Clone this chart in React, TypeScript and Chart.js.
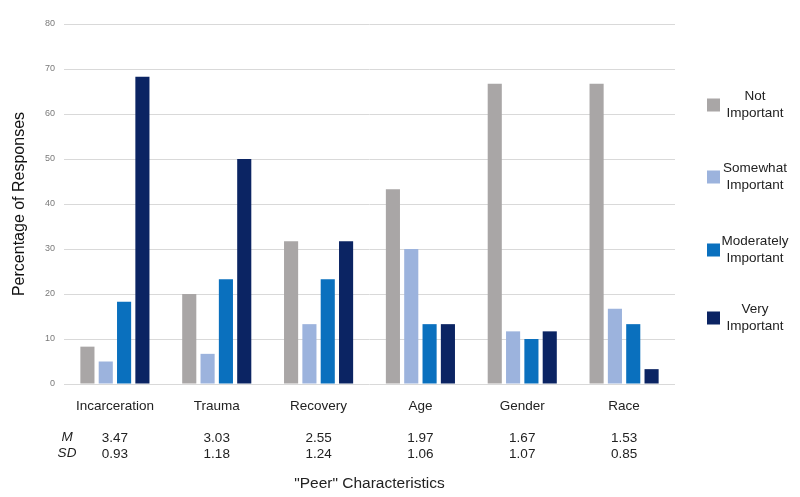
import React, { useEffect, useRef } from "react";
import { Chart, registerables } from "chart.js";

Chart.register(...registerables);

const categories = ["Incarceration", "Trauma", "Recovery", "Age", "Gender", "Race"];
const meanValues = ["3.47", "3.03", "2.55", "1.97", "1.67", "1.53"];
const sdValues = ["0.93", "1.18", "1.24", "1.06", "1.07", "0.85"];
const seriesLabels = ["Not Important", "Somewhat Important", "Moderately Important", "Very Important"];
const notImportant = [8.3, 20, 31.7, 43.3, 66.7, 66.7];
const somewhatImportant = [5, 6.7, 13.3, 30, 11.7, 16.7];
const moderatelyImportant = [18.3, 23.3, 23.3, 13.3, 10, 13.3];
const veryImportant = [68.3, 50, 31.7, 13.3, 11.7, 3.3];
const seriesColors = ["#A9A6A6", "#9CB3DD", "#0A70BE", "#0B2463"];
const yTicks = [0, 10, 20, 30, 40, 50, 60, 70, 80];

const FONT = "'Liberation Sans', Arial, sans-serif";

const sidePlugin = {
  id: "sideText",
  afterDraw(chart: any) {
    const ctx = chart.ctx;
    ctx.save();
    // M / SD row labels
    ctx.fillStyle = "#222";
    ctx.font = `italic 13.5px ${FONT}`;
    ctx.textAlign = "center";
    ctx.textBaseline = "middle";
    ctx.fillText("M", 67, 437);
    ctx.fillText("SD", 67, 453);
    // legend
    const centers = [105, 177, 250, 318];
    chart.data.datasets.forEach((ds: any, i: number) => {
      const cy = centers[i];
      ctx.fillStyle = ds.backgroundColor;
      ctx.fillRect(707, cy - 6.5, 13, 13);
      const parts = String(ds.label).split(" ");
      ctx.fillStyle = "#222";
      ctx.font = `13.5px ${FONT}`;
      ctx.fillText(parts[0], 755, cy - 8.5);
      ctx.fillText(parts.slice(1).join(" "), 755, cy + 8.5);
    });
    ctx.restore();
  },
};

export default function App() {
  const ref = useRef<HTMLCanvasElement | null>(null);
  useEffect(() => {
    document.body.style.margin = "0";
    const data = [notImportant, somewhatImportant, moderatelyImportant, veryImportant];
    const chart = new Chart(ref.current as HTMLCanvasElement, {
      type: "bar",
      data: {
        labels: categories.map((c, i) => [c, "", meanValues[i], sdValues[i]]),
        datasets: data.map((d, i) => ({
          label: seriesLabels[i],
          data: d,
          backgroundColor: seriesColors[i],
          borderWidth: 0,
          categoryPercentage: 0.72,
          barPercentage: 0.77,
        })),
      },
      options: {
        animation: false,
        responsive: false,
        maintainAspectRatio: false,
        layout: { padding: { top: 24, right: 125, bottom: 0, left: 0 } },
        plugins: { legend: { display: false }, tooltip: { enabled: false } },
        scales: {
          x: {
            grid: { display: false },
            border: { display: false },
            ticks: {
              color: "#222",
              font: { family: FONT, size: 13.5, lineHeight: 1.2 },
              padding: 6,
              maxRotation: 0,
              autoSkip: false,
            },
            title: {
              display: true,
              text: '"Peer" Characteristics',
              color: "#222",
              font: { family: FONT, size: 15.5 },
              padding: { top: 0, bottom: 4 },
            },
            afterFit: (s: any) => {
              s.height = 113;
            },
          },
          y: {
            min: 0,
            max: 80,
            afterBuildTicks: (s: any) => {
              s.ticks = yTicks.map((v) => ({ value: v }));
            },
            grid: { color: "#D9D9D9", lineWidth: 1, drawTicks: false },
            border: { display: false },
            ticks: {
              color: "#7a7a7a",
              font: { family: FONT, size: 9 },
              padding: 9,
            },
            title: {
              display: true,
              text: "Percentage of Responses",
              color: "#111",
              font: { family: FONT, size: 16 },
              padding: { top: 10, bottom: 0 },
            },
            afterFit: (s: any) => {
              s.width = 64;
            },
          },
        },
      },
      plugins: [sidePlugin],
    });
    return () => chart.destroy();
  }, []);
  return (
    <div style={{ width: 800, height: 497, background: "#fff" }}>
      <canvas ref={ref} width={800} height={497} style={{ display: "block" }} />
    </div>
  );
}
